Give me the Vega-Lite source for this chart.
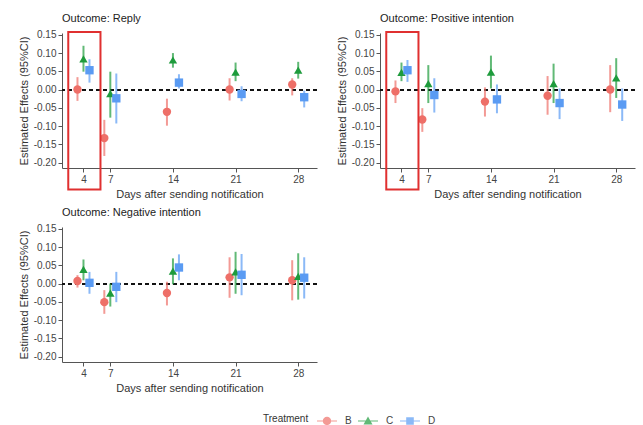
{
  "$schema": "https://vega.github.io/schema/vega-lite/v6.json",
  "background": "white",
  "padding": {"left": 18, "top": 12, "right": 5, "bottom": 5},
  "config": {
    "font": "Liberation Sans",
    "view": {"stroke": null},
    "axis": {"labelFont": "Liberation Sans", "titleFont": "Liberation Sans", "labelColor": "#444", "titleColor": "#333", "titleFontWeight": "normal", "labelFontSize": 10, "titleFontSize": 11, "domainColor": "#555", "tickColor": "#555", "tickSize": 4, "labelOverlap": false},
    "header": {"labelFont": "Liberation Sans", "labelFontSize": 11, "labelColor": "#222", "labelAnchor": "start", "labelPadding": 6},
    "legend": {"labelFont": "Liberation Sans", "titleFont": "Liberation Sans"}
  },
  "data": {"values": [
    {"kind":"est","outcome":"Reply","day":4,"treatment":"B","est":0.000,"lo":-0.031,"hi":0.034},
    {"kind":"est","outcome":"Reply","day":4,"treatment":"C","est":0.084,"lo":0.049,"hi":0.120},
    {"kind":"est","outcome":"Reply","day":4,"treatment":"D","est":0.053,"lo":0.019,"hi":0.083},
    {"kind":"est","outcome":"Reply","day":7,"treatment":"B","est":-0.133,"lo":-0.182,"hi":-0.083},
    {"kind":"est","outcome":"Reply","day":7,"treatment":"C","est":-0.011,"lo":-0.077,"hi":0.049},
    {"kind":"est","outcome":"Reply","day":7,"treatment":"D","est":-0.024,"lo":-0.093,"hi":0.044},
    {"kind":"est","outcome":"Reply","day":14,"treatment":"B","est":-0.061,"lo":-0.099,"hi":-0.025},
    {"kind":"est","outcome":"Reply","day":14,"treatment":"C","est":0.081,"lo":0.060,"hi":0.100},
    {"kind":"est","outcome":"Reply","day":14,"treatment":"D","est":0.019,"lo":0.003,"hi":0.042},
    {"kind":"est","outcome":"Reply","day":21,"treatment":"B","est":0.000,"lo":-0.030,"hi":0.031},
    {"kind":"est","outcome":"Reply","day":21,"treatment":"C","est":0.048,"lo":0.023,"hi":0.074},
    {"kind":"est","outcome":"Reply","day":21,"treatment":"D","est":-0.012,"lo":-0.032,"hi":0.009},
    {"kind":"est","outcome":"Reply","day":28,"treatment":"B","est":0.014,"lo":-0.016,"hi":0.031},
    {"kind":"est","outcome":"Reply","day":28,"treatment":"C","est":0.053,"lo":0.030,"hi":0.076},
    {"kind":"est","outcome":"Reply","day":28,"treatment":"D","est":-0.021,"lo":-0.049,"hi":-0.003},
    {"kind":"est","outcome":"Positive intention","day":4,"treatment":"B","est":-0.005,"lo":-0.037,"hi":0.025},
    {"kind":"est","outcome":"Positive intention","day":4,"treatment":"C","est":0.047,"lo":0.023,"hi":0.074},
    {"kind":"est","outcome":"Positive intention","day":4,"treatment":"D","est":0.053,"lo":0.021,"hi":0.081},
    {"kind":"est","outcome":"Positive intention","day":7,"treatment":"B","est":-0.082,"lo":-0.116,"hi":-0.051},
    {"kind":"est","outcome":"Positive intention","day":7,"treatment":"C","est":0.016,"lo":-0.037,"hi":0.067},
    {"kind":"est","outcome":"Positive intention","day":7,"treatment":"D","est":-0.015,"lo":-0.063,"hi":0.031},
    {"kind":"est","outcome":"Positive intention","day":14,"treatment":"B","est":-0.033,"lo":-0.074,"hi":0.006},
    {"kind":"est","outcome":"Positive intention","day":14,"treatment":"C","est":0.048,"lo":0.003,"hi":0.093},
    {"kind":"est","outcome":"Positive intention","day":14,"treatment":"D","est":-0.027,"lo":-0.065,"hi":0.014},
    {"kind":"est","outcome":"Positive intention","day":21,"treatment":"B","est":-0.017,"lo":-0.069,"hi":0.037},
    {"kind":"est","outcome":"Positive intention","day":21,"treatment":"C","est":0.016,"lo":-0.037,"hi":0.071},
    {"kind":"est","outcome":"Positive intention","day":21,"treatment":"D","est":-0.037,"lo":-0.081,"hi":0.003},
    {"kind":"est","outcome":"Positive intention","day":28,"treatment":"B","est":0.000,"lo":-0.062,"hi":0.067},
    {"kind":"est","outcome":"Positive intention","day":28,"treatment":"C","est":0.032,"lo":-0.023,"hi":0.086},
    {"kind":"est","outcome":"Positive intention","day":28,"treatment":"D","est":-0.041,"lo":-0.086,"hi":0.003},
    {"kind":"est","outcome":"Negative intention","day":4,"treatment":"B","est":0.007,"lo":-0.011,"hi":0.023},
    {"kind":"est","outcome":"Negative intention","day":4,"treatment":"C","est":0.039,"lo":0.009,"hi":0.066},
    {"kind":"est","outcome":"Negative intention","day":4,"treatment":"D","est":0.002,"lo":-0.028,"hi":0.032},
    {"kind":"est","outcome":"Negative intention","day":7,"treatment":"B","est":-0.051,"lo":-0.083,"hi":-0.018},
    {"kind":"est","outcome":"Negative intention","day":7,"treatment":"C","est":-0.026,"lo":-0.063,"hi":0.000},
    {"kind":"est","outcome":"Negative intention","day":7,"treatment":"D","est":-0.009,"lo":-0.051,"hi":0.032},
    {"kind":"est","outcome":"Negative intention","day":14,"treatment":"B","est":-0.026,"lo":-0.060,"hi":0.005},
    {"kind":"est","outcome":"Negative intention","day":14,"treatment":"C","est":0.034,"lo":-0.002,"hi":0.069},
    {"kind":"est","outcome":"Negative intention","day":14,"treatment":"D","est":0.044,"lo":0.009,"hi":0.080},
    {"kind":"est","outcome":"Negative intention","day":21,"treatment":"B","est":0.017,"lo":-0.039,"hi":0.072},
    {"kind":"est","outcome":"Negative intention","day":21,"treatment":"C","est":0.032,"lo":-0.028,"hi":0.087},
    {"kind":"est","outcome":"Negative intention","day":21,"treatment":"D","est":0.024,"lo":-0.032,"hi":0.081},
    {"kind":"est","outcome":"Negative intention","day":28,"treatment":"B","est":0.009,"lo":-0.046,"hi":0.064},
    {"kind":"est","outcome":"Negative intention","day":28,"treatment":"C","est":0.020,"lo":-0.044,"hi":0.083},
    {"kind":"est","outcome":"Negative intention","day":28,"treatment":"D","est":0.016,"lo":-0.041,"hi":0.072},
    {"kind":"box","outcome":"Reply","day":2.3,"day2":5.9,"lo":-0.274,"hi":0.158},
    {"kind":"box","outcome":"Positive intention","day":2.3,"day2":5.9,"lo":-0.274,"hi":0.158}
  ]},
  "facet": {"field": "outcome", "type": "nominal", "sort": ["Reply", "Positive intention", "Negative intention"], "title": null, "header": {"labelExpr": "'Outcome: ' + datum.value"}},
  "columns": 2,
  "spacing": {"column": 18, "row": 7},
  "resolve": {"axis": {"x": "independent", "y": "independent"}},
  "spec": {
    "width": 255,
    "height": 135,
    "layer": [
      {
        "mark": {"type": "rule", "color": "#111", "strokeDash": [4, 3], "strokeWidth": 1.2},
        "encoding": {"y": {"datum": 0, "type": "quantitative", "scale": {"domain": [-0.215, 0.155], "nice": false, "zero": false},
                "axis": {"tickCount": 8, "labelOverlap": false, "labelSeparation": 0, "labelExpr": "replace(format(datum.value, '.2f'), '\u2212', '-')", "gridColor": "#ebebeb", "title": "Estimated Effects (95%CI)"}}}
      },
      {
        "transform": [{"filter": "datum.kind === 'est'"}],
        "mark": {"type": "rule", "strokeWidth": 2, "opacity": 0.7, "xOffset": {"expr": "datum.treatment === 'B' ? -6 : datum.treatment === 'D' ? 6 : 0"}},
        "encoding": {
          "x": {"field": "day", "type": "quantitative", "scale": {"domain": [1.6, 30.1], "nice": false, "zero": false},
                "axis": {"values": [4, 7, 14, 21, 28], "grid": false, "title": "Days after sending notification", "titlePadding": 4}},
          "y": {"field": "lo", "type": "quantitative"},
          "y2": {"field": "hi"},
          "color": {"field": "treatment", "type": "nominal", "scale": {"domain": ["B", "C", "D"], "range": ["#ee6f68", "#1e9b3c", "#5a9bf3"]}, "title": "Treatment"}
        }
      },
      {
        "transform": [{"filter": "datum.kind === 'est'"}],
        "mark": {"type": "point", "filled": true, "opacity": 1, "size": 70,
                 "xOffset": {"expr": "datum.treatment === 'B' ? -6 : datum.treatment === 'D' ? 6 : 0"},
                 "shape": {"expr": "datum.treatment === 'B' ? 'circle' : datum.treatment === 'C' ? 'triangle-up' : 'square'"}},
        "encoding": {
          "x": {"field": "day", "type": "quantitative"},
          "y": {"field": "est", "type": "quantitative"},
          "color": {"field": "treatment", "type": "nominal", "title": "Treatment",
                    "legend": {"orient": "none", "legendX": 201, "legendY": 378, "direction": "horizontal", "titleOrient": "left", "titleFontWeight": "normal", "titleFontSize": 10, "titleColor": "#333", "titlePadding": 8, "labelFontSize": 10, "labelColor": "#444", "labelOffset": 8, "columnPadding": 6, "symbolSize": 400, "symbolStrokeWidth": 0,
                               "symbolType": {"expr": "datum.value === 'B' ? 'M-1,-0.06H1V0.06H-1ZM0.42,0A0.42,0.42,0,1,1,-0.42,0A0.42,0.42,0,1,1,0.42,0Z' : datum.value === 'C' ? 'M-1,-0.06H1V0.06H-1ZM0,-0.45L0.45,0.35L-0.45,0.35Z' : 'M-1,-0.06H1V0.06H-1ZM-0.38,-0.38H0.38V0.38H-0.38Z'"}}}
        }
      },
      {
        "transform": [{"filter": "datum.kind === 'box'"}],
        "mark": {"type": "rect", "fill": null, "fillOpacity": 0, "stroke": "#e03030", "strokeWidth": 2},
        "encoding": {
          "x": {"field": "day", "type": "quantitative"},
          "x2": {"field": "day2"},
          "y": {"field": "hi", "type": "quantitative"},
          "y2": {"field": "lo"}
        }
      }
    ]
  }
}
